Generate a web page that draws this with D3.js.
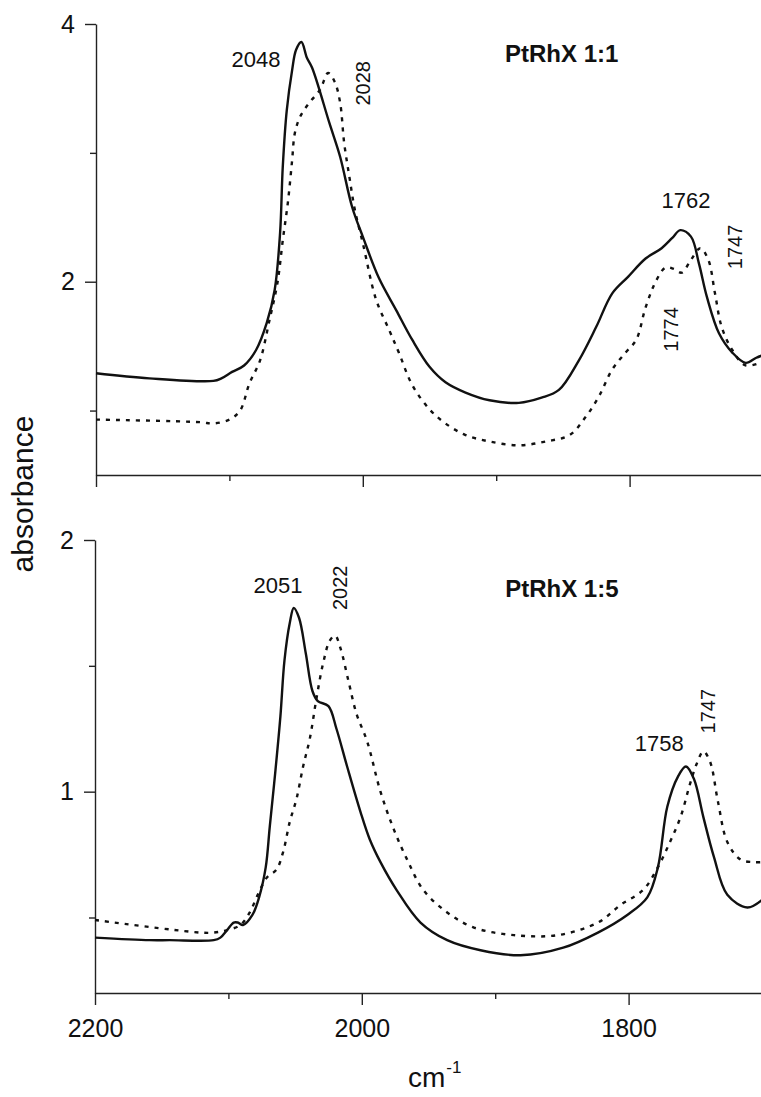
<!DOCTYPE html>
<html>
<head>
<meta charset="utf-8">
<script src="https://cdn.jsdelivr.net/npm/d3@7"></script>
<style>
  html, body { margin: 0; padding: 0; background: #fff; }
  svg { display: block; }
  text { font-family: "Liberation Sans", Arial, sans-serif; fill: #111; }
</style>
</head>
<body>
<svg id="chart" width="761" height="1097"></svg>
<script>
// ---------------- DATA ----------------
// Top panel (PtRhX 1:1)
const topSolidWn  = [2200,2160,2112,2106,2098,2089,2080,2072,2066,2062,2060,2057,2053,2050,2046,2042,2038,2025,2017,2008,2000,1988,1975,1963,1950,1938,1923,1905,1883,1866,1853,1838,1825,1813,1801,1788,1776,1768,1762,1754,1748,1742,1733,1723,1713,1705,1700];
const topSolidAbs = [1.29,1.25,1.23,1.25,1.30,1.35,1.47,1.68,1.94,2.38,2.89,3.33,3.64,3.80,3.86,3.74,3.66,3.23,2.97,2.58,2.35,2.03,1.78,1.55,1.34,1.22,1.14,1.08,1.06,1.10,1.16,1.39,1.65,1.91,2.04,2.18,2.26,2.34,2.40,2.35,2.14,1.88,1.60,1.45,1.37,1.41,1.43];

const topDotWn  = [2200,2122,2112,2100,2092,2085,2077,2070,2064,2060,2056,2053,2051,2047,2040,2032,2026,2021,2017,2014,2010,2006,2000,1990,1980,1973,1963,1950,1938,1923,1905,1883,1863,1845,1833,1823,1813,1803,1795,1788,1780,1773,1767,1761,1754,1747,1741,1736,1731,1723,1713,1700];
const topDotAbs = [0.93,0.91,0.90,0.93,1.00,1.21,1.39,1.70,1.99,2.32,2.63,2.94,3.15,3.28,3.39,3.49,3.62,3.55,3.39,3.08,2.81,2.56,2.30,1.86,1.62,1.45,1.20,1.01,0.90,0.81,0.76,0.73,0.76,0.81,0.95,1.11,1.32,1.45,1.55,1.80,2.01,2.11,2.10,2.07,2.17,2.26,2.17,1.91,1.65,1.47,1.35,1.38];

// Bottom panel (PtRhX 1:5)
const botSolidWn  = [2200,2159,2144,2111,2106,2101,2096,2093,2089,2082,2077,2072,2069,2065,2061,2058,2054,2051,2047,2042,2037,2033,2025,2019,2011,2001,1994,1986,1974,1956,1936,1911,1881,1849,1823,1801,1786,1778,1771,1763,1757,1751,1744,1736,1726,1711,1700];
const botSolidAbs = [0.42,0.41,0.41,0.41,0.42,0.45,0.48,0.48,0.47,0.51,0.58,0.70,0.86,1.07,1.30,1.52,1.67,1.73,1.69,1.55,1.40,1.36,1.34,1.25,1.10,0.92,0.81,0.72,0.61,0.48,0.41,0.37,0.35,0.38,0.44,0.51,0.58,0.70,0.94,1.06,1.10,1.05,0.90,0.74,0.59,0.54,0.57];

const botDotWn  = [2200,2121,2111,2101,2091,2084,2078,2071,2064,2059,2054,2049,2044,2039,2034,2029,2024,2020,2016,2010,2004,1996,1986,1976,1966,1954,1936,1916,1886,1853,1823,1806,1789,1778,1769,1761,1754,1749,1744,1739,1733,1726,1716,1706,1700];
const botDotAbs = [0.49,0.44,0.44,0.45,0.47,0.52,0.59,0.66,0.69,0.76,0.88,0.97,1.10,1.21,1.37,1.51,1.60,1.62,1.57,1.44,1.31,1.20,1.00,0.85,0.73,0.61,0.52,0.46,0.43,0.43,0.48,0.55,0.61,0.70,0.80,0.90,1.03,1.11,1.16,1.12,0.96,0.80,0.73,0.72,0.72];

// Axis ticks
const xMajorTicks = [2200, 2000, 1800];
const xMinorTicks = [2100, 1900, 1700];
const topYMajor = [2, 4];
const topYMinor = [1, 3];
const botYMajor = [1, 2];
const botYMinor = [0.5, 1.5];

// Annotations: text, wavenumber, absorbance (data units), rotated?
const topLabels = [
  ["2048", 2080, 3.67, false],
  ["2028", 1994.6, 3.54, true],
  ["1762", 1757.7, 2.57, false],
  ["1747", 1715.7, 2.27, true],
  ["1774", 1763.7, 1.63, true]
];
const botLabels = [
  ["2051", 2062.8, 1.79, false],
  ["2022", 2011, 1.81, true],
  ["1758", 1777, 1.16, false],
  ["1747", 1735, 1.32, true]
];
const titles = ["PtRhX 1:1", "PtRhX 1:5"];
const titleWn = [1893.4, 1892.5];
const titleAbs = [3.705, 1.774];
const yTitle = "absorbance";
const xTitle = "cm";
const xTitleSup = "-1";

// ---------------- DRAW ----------------
const svg = d3.select("#chart");
const axisColor = "#222";

function zip(w, a) { return w.map((d, i) => ({ wn: d, abs: a[i] })); }

function panel(cfg) {
  const x = d3.scaleLinear().domain([2200, 1700]).range(cfg.xr);
  const y = d3.scaleLinear().domain(cfg.yd).range(cfg.yr);
  const g = svg.append("g");
  const y0 = cfg.yr[0];

  // X axis: major + minor
  g.append("g").attr("transform", `translate(0,${y0})`)
    .call(d3.axisBottom(x).tickValues(xMajorTicks).tickSize(12).tickSizeOuter(0).tickPadding(14)
      .tickFormat(cfg.xLabels ? d3.format("d") : () => ""));
  const xMin = g.append("g").attr("transform", `translate(0,${y0})`)
    .call(d3.axisBottom(x).tickValues(xMinorTicks).tickSize(6).tickSizeOuter(0).tickFormat(() => ""));
  xMin.select(".domain").remove();

  // Y axis
  const x0 = cfg.xr[0];
  g.append("g").attr("transform", `translate(${x0},0)`)
    .call(d3.axisLeft(y).tickValues(cfg.yMajor).tickSize(11).tickSizeOuter(0).tickPadding(10).tickFormat(d3.format("d")));
  const yMin = g.append("g").attr("transform", `translate(${x0},0)`)
    .call(d3.axisLeft(y).tickValues(cfg.yMinor).tickSize(6).tickSizeOuter(0).tickFormat(() => ""));
  yMin.select(".domain").remove();

  g.selectAll(".domain, .tick line").attr("stroke", axisColor).attr("stroke-width", 1.4);
  g.selectAll(".tick text").attr("font-size", 25).attr("fill", "#111")
    .attr("font-family", '"Liberation Sans", Arial, sans-serif');

  const line = d3.line().x(d => x(d.wn)).y(d => y(d.abs)).curve(d3.curveCatmullRom.alpha(0.5));

  g.append("path").datum(cfg.dot).attr("d", line)
    .attr("fill", "none").attr("stroke", "#111").attr("stroke-width", 2.4)
    .attr("stroke-dasharray", "4,6");
  g.append("path").datum(cfg.solid).attr("d", line)
    .attr("fill", "none").attr("stroke", "#111").attr("stroke-width", 2.4)
    .attr("stroke-linejoin", "round");

  cfg.labels.forEach(l => {
    const t = g.append("text").text(l[0]);
    if (l[3]) {
      t.attr("transform", `translate(${x(l[1])},${y(l[2])}) rotate(-90)`)
       .attr("text-anchor", "middle").attr("font-size", 20);
    } else {
      t.attr("x", x(l[1])).attr("y", y(l[2]))
       .attr("text-anchor", "middle").attr("font-size", 22);
    }
  });

  g.append("text").text(cfg.title)
    .attr("x", x(cfg.titleWn)).attr("y", y(cfg.titleAbs))
    .attr("font-size", 24).attr("font-weight", "bold");
  return { x, y };
}

panel({
  xr: [96, 763], yd: [0.5, 4], yr: [475, 24],
  yMajor: topYMajor, yMinor: topYMinor, xLabels: false,
  solid: zip(topSolidWn, topSolidAbs), dot: zip(topDotWn, topDotAbs),
  labels: topLabels, title: titles[0], titleWn: titleWn[0], titleAbs: titleAbs[0]
});
panel({
  xr: [95, 762], yd: [0.2, 2], yr: [993, 540],
  yMajor: botYMajor, yMinor: botYMinor, xLabels: true,
  solid: zip(botSolidWn, botSolidAbs), dot: zip(botDotWn, botDotAbs),
  labels: botLabels, title: titles[1], titleWn: titleWn[1], titleAbs: titleAbs[1]
});

// Axis titles
svg.append("text").text(yTitle)
  .attr("transform", "translate(33,494) rotate(-90)")
  .attr("text-anchor", "middle").attr("font-size", 30);

const xt = svg.append("text").attr("x", 408).attr("y", 1087).attr("font-size", 28);
xt.append("tspan").text(xTitle);
xt.append("tspan").text(xTitleSup).attr("font-size", 17).attr("dy", -14).attr("dx", 1);
</script>
</body>
</html>
